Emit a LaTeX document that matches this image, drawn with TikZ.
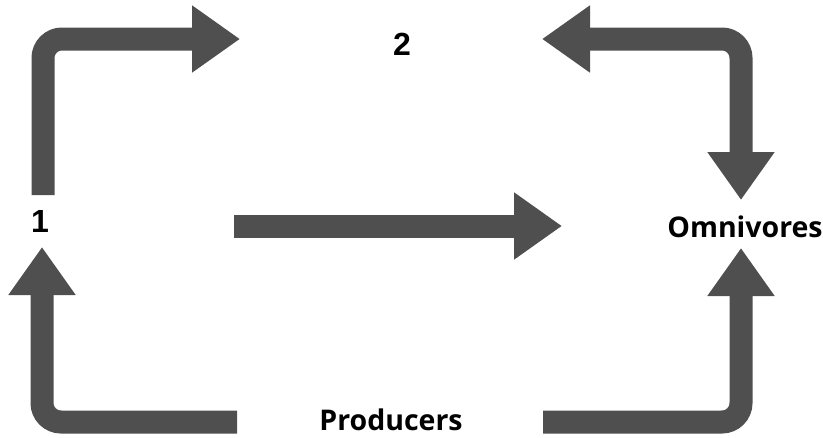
\documentclass[tikz,border=0pt]{standalone}
\usepackage{fontspec}
\newfontfamily\wordfont{Open Sans}
\newfontfamily\digitfont{Liberation Sans}
\usetikzlibrary{arrows.meta}

\definecolor{flowgray}{HTML}{4F4F4F}

\begin{document}
\begin{tikzpicture}[x=1pt,y=-1pt,
    flow/.style={line width=23pt, draw=flowgray, rounded corners=19pt, -{Triangle[width=64pt,length=48pt]}},
    both/.style={flow, {Triangle[width=64pt,length=48pt]}-{Triangle[width=64pt,length=48pt]}},
    lbl/.style={font=\wordfont\bfseries\fontsize{28.5}{28.5}\selectfont, anchor=base, inner sep=0pt},
    num/.style={font=\digitfont\bfseries\fontsize{32}{32}\selectfont, anchor=base, inner sep=0pt}
]
    \useasboundingbox (0,0) rectangle (823,437);

    % labels
    \node[num] (two) at (402,55) {2};
    \node[num] (one) at (40,232) {1};
    \node[lbl] (omni) at (745,237) {Omnivores};
    \node[lbl] (prod) at (391,430) {Producers};

    % arrow ends
    \coordinate (onefrom) at (43,195);
    \coordinate (onecorner) at (43,39);
    \coordinate (twotip) at (240,39);
    \coordinate (twoleft) at (542,39);
    \coordinate (twocorner) at (741,39);
    \coordinate (omnitop) at (741,200);
    \coordinate (midfrom) at (234,226);
    \coordinate (midto) at (562,226);
    \coordinate (prodleft) at (237,422);
    \coordinate (leftcorner) at (42,422);
    \coordinate (onebottom) at (42,247);
    \coordinate (prodright) at (543,422);
    \coordinate (rightcorner) at (741,422);
    \coordinate (omnibottom) at (741,248);

    % 1 to 2
    \draw[flow] (onefrom) -- (onecorner) -- (twotip);
    % 2 and omnivores
    \draw[both] (twoleft) -- (twocorner) -- (omnitop);
    % 1 to omnivores
    \draw[flow] (midfrom) -- (midto);
    % producers up
    \draw[flow] (prodleft) -- (leftcorner) -- (onebottom);
    \draw[flow] (prodright) -- (rightcorner) -- (omnibottom);
\end{tikzpicture}
\end{document}
